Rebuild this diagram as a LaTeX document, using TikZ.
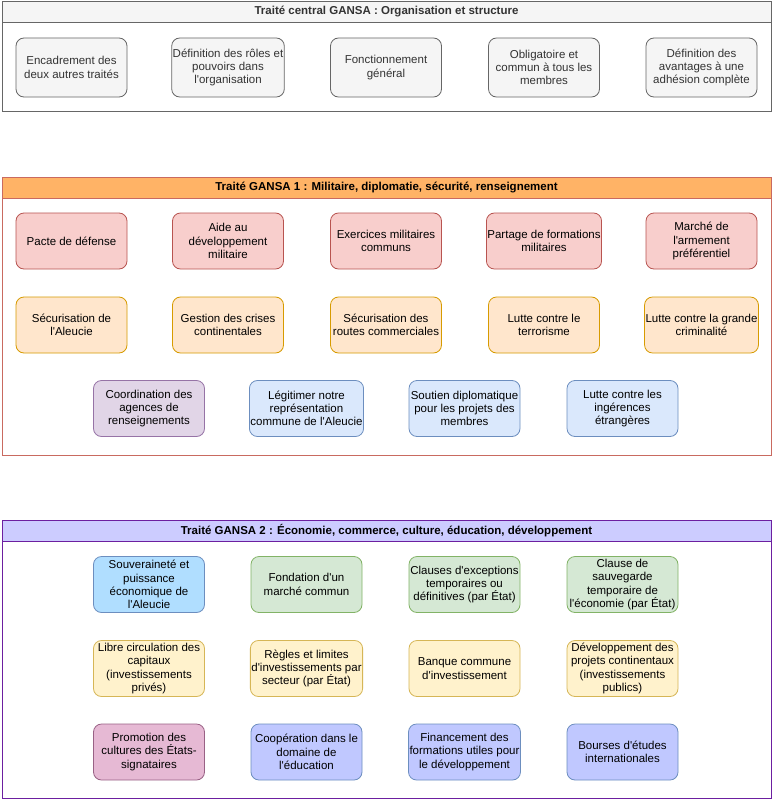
\documentclass[tikz,border=0pt]{standalone}
\usepackage{fontspec}
\setmainfont{Liberation Sans}[Ligatures=TeXOff]
\definecolor{gryF}{HTML}{F5F5F5}
\definecolor{gryD}{HTML}{666666}
\definecolor{gryT}{HTML}{333333}
\definecolor{redF}{HTML}{F8CECC}
\definecolor{redD}{HTML}{B85450}
\definecolor{orgF}{HTML}{FFE6CC}
\definecolor{orgD}{HTML}{D79B00}
\definecolor{purF}{HTML}{E1D5E7}
\definecolor{purD}{HTML}{9673A6}
\definecolor{bluF}{HTML}{DAE8FC}
\definecolor{bluD}{HTML}{6C8EBF}
\definecolor{hdrA}{HTML}{FFB366}
\definecolor{frmA}{HTML}{C96A60}
\definecolor{hdrB}{HTML}{CCCCFF}
\definecolor{frmB}{HTML}{6C1FA0}
\definecolor{skyF}{HTML}{B0DEFF}
\definecolor{grnF}{HTML}{D5E8D4}
\definecolor{grnD}{HTML}{82B366}
\definecolor{yelF}{HTML}{FFF2CC}
\definecolor{yelD}{HTML}{D6B656}
\definecolor{pnkF}{HTML}{E6B9D4}
\definecolor{pnkD}{HTML}{996185}
\definecolor{lavF}{HTML}{C0C8FF}
\tikzset{
  box/.style={rounded corners=8pt, minimum width=111pt, minimum height=56pt,
    align=center, inner sep=1pt, line width=0.8pt,
    font=\fontsize{11.5}{13.3}\selectfont},
  graybox/.style={box, draw=gryD, fill=gryF, text=gryT, minimum height=59pt},
  redbox/.style={box, draw=redD, fill=redF},
  orgbox/.style={box, draw=orgD, fill=orgF},
  purbox/.style={box, draw=purD, fill=purF},
  blubox/.style={box, draw=bluD, fill=bluF},
  skybox/.style={box, draw=bluD, fill=skyF},
  grnbox/.style={box, draw=grnD, fill=grnF},
  yelbox/.style={box, draw=yelD, fill=yelF},
  pnkbox/.style={box, draw=pnkD, fill=pnkF},
  lavbox/.style={box, draw=bluD, fill=lavF},
  title/.style={font=\fontsize{11.5}{13.3}\selectfont\bfseries, inner sep=0pt},
  frame/.style={line width=0.9pt}
}
\begin{document}
\begin{tikzpicture}[x=1pt, y=-1pt]
\useasboundingbox (0,0) rectangle (773,800);
% ---- central section
\draw[frame, draw=gryD, fill=white] (2,1) rectangle (771,111);
\draw[frame, draw=gryD, fill=gryF] (2,1) rectangle (771,22);
\node[title, text=gryT] (t0) at (386.5,11.5) {Traité central GANSA : Organisation et structure};
\node[graybox] (c1) at (71.5,67.5) {Encadrement des\\deux autres traités};
\node[graybox] (c2) at (228,67.5) {Définition des rôles et\\pouvoirs dans\\l'organisation};
\node[graybox] (c3) at (386,67.5) {Fonctionnement\\général};
\node[graybox] (c4) at (544,67.5) {Obligatoire et\\commun à tous les\\membres};
\node[graybox] (c5) at (701.5,67.5) {Définition des\\avantages à une\\adhésion complète};
% ---- section 1
\draw[frame, draw=frmA, fill=white] (2,177) rectangle (771,455);
\draw[frame, draw=frmA, fill=hdrA] (2,177) rectangle (771,198);
\node[title] (t1) at (386.5,187.5) {Traité GANSA 1 : Militaire, diplomatie, sécurité, renseignement};
\node[redbox] (a1) at (71.5,241) {Pacte de défense};
\node[redbox] (a2) at (228,241) {Aide au\\développement\\militaire};
\node[redbox] (a3) at (386,241) {Exercices militaires\\communs};
\node[redbox] (a4) at (544,241) {Partage de formations\\militaires};
\node[redbox] (a5) at (701.5,241) {Marché de\\l'armement\\préférentiel};
\node[orgbox] (b1) at (71.5,325) {Sécurisation de\\l'Aleucie};
\node[orgbox] (b2) at (228,325) {Gestion des crises\\continentales};
\node[orgbox] (b3) at (386,325) {Sécurisation des\\routes commerciales};
\node[orgbox] (b4) at (544,325) {Lutte contre le\\terrorisme};
\node[orgbox] (b5) at (701.5,325) {Lutte contre la grande\\criminalité};
\node[purbox] (d1) at (149,408.5) {Coordination des\\agences de\\renseignements};
\node[blubox] (d2) at (306.5,408.5) {Légitimer notre\\représentation\\commune de l'Aleucie};
\node[blubox] (d3) at (464.5,408.5) {Soutien diplomatique\\pour les projets des\\membres};
\node[blubox] (d4) at (622.5,408.5) {Lutte contre les\\ingérences\\étrangères};
% ---- section 2
\draw[frame, draw=frmB, fill=white] (2,520) rectangle (771,798);
\draw[frame, draw=frmB, fill=hdrB] (2,520) rectangle (771,541);
\node[title] (t2) at (386.5,530.5) {Traité GANSA 2 : Économie, commerce, culture, éducation, développement};
\node[skybox] (e1) at (149,584.5) {Souveraineté et\\puissance\\économique de\\l'Aleucie};
\node[grnbox] (e2) at (306.5,584.5) {Fondation d'un\\marché commun};
\node[grnbox] (e3) at (464.5,584.5) {Clauses d'exceptions\\temporaires ou\\définitives (par État)};
\node[grnbox] (e4) at (622.5,584.5) {Clause de\\sauvegarde\\temporaire de\\l'économie (par État)};
\node[yelbox] (f1) at (149,668.5) {Libre circulation des\\capitaux\\(investissements\\privés)};
\node[yelbox] (f2) at (306.5,668.5) {Règles et limites\\d'investissements par\\secteur (par État)};
\node[yelbox] (f3) at (464.5,668.5) {Banque commune\\d'investissement};
\node[yelbox] (f4) at (622.5,668.5) {Développement des\\projets continentaux\\(investissements\\publics)};
\node[pnkbox] (g1) at (149,752) {Promotion des\\cultures des États-\\signataires};
\node[lavbox] (g2) at (306.5,752) {Coopération dans le\\domaine de\\l'éducation};
\node[lavbox] (g3) at (464.5,752) {Financement des\\formations utiles pour\\le développement};
\node[lavbox] (g4) at (622.5,752) {Bourses d'études\\internationales};
\end{tikzpicture}
\end{document}
